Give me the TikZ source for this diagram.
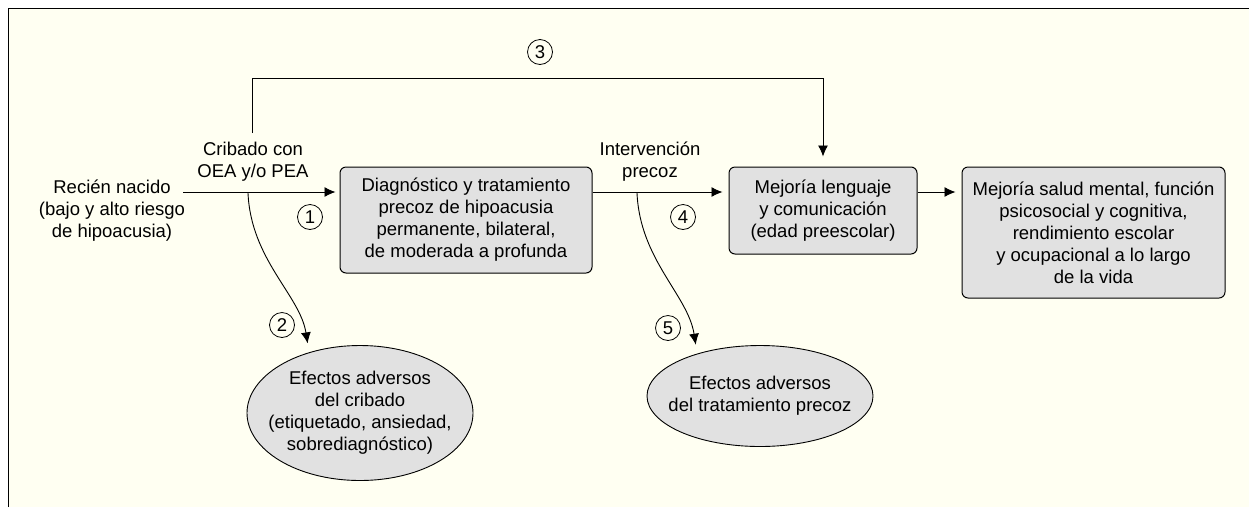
\documentclass[tikz,border=0pt]{standalone}
\usepackage{fontspec}
\setmainfont{Liberation Sans}
\usetikzlibrary{shapes.geometric,arrows.meta}
\definecolor{cream}{RGB}{255,255,242}
\definecolor{boxgray}{RGB}{225,225,225}

\begin{document}
\begin{tikzpicture}[x=1pt,y=-1pt]
        \tikzstyle{every node} = [font=\fontsize{18.5}{22}\selectfont, align=center]
        \tikzstyle{box} = [rectangle, rounded corners=6pt, draw, line width=1pt, fill=boxgray, inner sep=0pt]
        \tikzstyle{oval} = [ellipse, draw, line width=0.9pt, fill=boxgray, inner xsep=-22pt, inner ysep=0pt]
        \tikzstyle{num} = [circle, draw, line width=0.8pt, minimum size=25pt, inner sep=0pt]
        \tikzstyle{arr} = [-{Latex[length=11pt,width=10pt]}, line width=0.9pt]
        \useasboundingbox (0,0) rectangle (1249,507);
        \fill[white] (0,0) rectangle (1249,507);
        \fill[cream] (8,8) rectangle (1249,507);
        \draw[line width=0.9pt] (8,507) -- (8,8) -- (1249,8);
        % nodes
        \node (rn) at (112,211) {Recién nacido\\(bajo y alto riesgo\\de hipoacusia)};
        \node (crib) at (253,162) {Cribado con\\OEA y/o PEA};
        \node (interv) at (650,162) {Intervención\\precoz};
        \node[box, minimum width=252pt, minimum height=106pt] (diag) at (466,220)
            {Diagnóstico y tratamiento\\precoz de hipoacusia\\permanente, bilateral,\\de moderada a profunda};
        \node[box, minimum width=188pt, minimum height=87pt] (lang) at (823,210.5)
            {Mejoría lenguaje\\y comunicación\\(edad preescolar)};
        \node[box, minimum width=263pt, minimum height=131pt] (salud) at (1093.5,232.5)
            {Mejoría salud mental, función\\psicosocial y cognitiva,\\rendimiento escolar\\y ocupacional a lo largo\\de la vida};
        \node[oval, minimum width=226pt, minimum height=135pt] (eff1) at (360,413)
            {Efectos adversos\\del cribado\\(etiquetado, ansiedad,\\sobrediagnóstico)};
        \node[oval, minimum width=226pt, minimum height=101pt] (eff2) at (760,396)
            {Efectos adversos\\del tratamiento precoz};
        \foreach \n/\x/\y in {1/310/217, 2/282/325, 3/540/52, 4/683/217, 5/668/328}
            \node[num] (n\n) at (\x,\y) {\n};
        % connectors
        \coordinate (a1) at (183,192);
        \coordinate (c2) at (248,193);
        \coordinate (c5) at (637,193);
        \coordinate (c3) at (252,133);
        \coordinate (c3top) at (252,78);
        \draw[arr, shorten >=4pt] (a1) -- (a1 -| diag.west);
        \draw[arr, shorten >=6pt] (diag.east |- a1) -- (lang.west |- a1);
        \draw[arr, shorten >=6pt] (lang.east |- a1) -- (salud.west |- a1);
        \draw[arr, shorten >=10pt] (c3) -- (c3top) -| (lang.north);
        \draw[arr, shorten >=9pt] (c2) .. controls (251,260) and (300,295) .. (eff1.130);
        \draw[arr, shorten >=9pt] (c5) .. controls (640,260) and (688,295) .. (eff2.146);
    \end{tikzpicture}
\end{document}
